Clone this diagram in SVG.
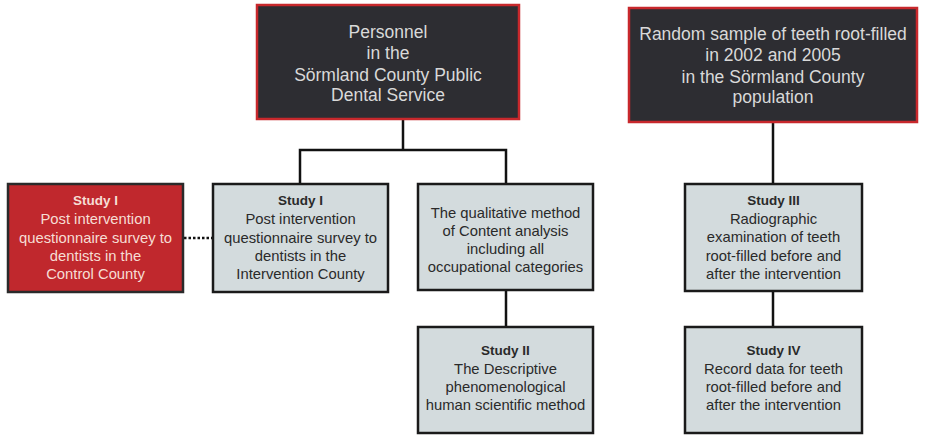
<svg xmlns="http://www.w3.org/2000/svg" width="928" height="442" viewBox="0 0 928 442">
<style>
.top{fill:#2d2d32;stroke:#c8282c;stroke-width:2.5}
.red{fill:#c0282d;stroke:#2a2a2a;stroke-width:2.5}
.gray{fill:#d3dbdd;stroke:#1a1a1a;stroke-width:2.5}
text{font-family:"Liberation Sans",Arial,sans-serif;text-anchor:middle}
.tt{fill:#d9d9d9;font-size:17.5px}
.rt{fill:#f6ddd4;font-size:14.8px}
.gt{fill:#2a2a2a;font-size:14.8px}
.b{font-weight:bold;font-size:13.5px}
.ln{stroke:#111;stroke-width:2.5;fill:none}
</style>
<rect width="928" height="442" fill="#fff"/>
<g id="connectors">
<path class="ln" d="M403,120 V150 M300,184 V150 H506 V184 M506,290 V327 M773,122 V184 M773,291 V327"/>
<path d="M184,238 H212" stroke="#111" stroke-width="2.5" stroke-dasharray="2.5,2"/>
</g>
<g id="personnel">
<rect class="top" x="257" y="5" width="262" height="114"/>
<text class="tt"><tspan x="388" y="38">Personnel</tspan><tspan x="388" y="59">in the</tspan><tspan x="388" y="81">Sörmland County Public</tspan><tspan x="388" y="101">Dental Service</tspan></text>
</g>
<g id="sample">
<rect class="top" x="629" y="8" width="288" height="114"/>
<text class="tt"><tspan x="773" y="40">Random sample of teeth root-filled</tspan><tspan x="773" y="61">in 2002 and 2005</tspan><tspan x="773" y="83">in the Sörmland County</tspan><tspan x="773" y="103">population</tspan></text>
</g>
<g id="study1-control">
<rect class="red" x="8" y="184" width="175" height="108"/>
<text class="rt"><tspan class="b" x="95.5" y="205">Study I</tspan><tspan x="95.5" y="224">Post intervention</tspan><tspan x="95.5" y="243">questionnaire survey to</tspan><tspan x="95.5" y="261">dentists in the</tspan><tspan x="95.5" y="279">Control County</tspan></text>
</g>
<g id="study1-intervention">
<rect class="gray" x="213" y="184" width="175" height="108"/>
<text class="gt"><tspan class="b" x="300.5" y="205">Study I</tspan><tspan x="300.5" y="224">Post intervention</tspan><tspan x="300.5" y="243">questionnaire survey to</tspan><tspan x="300.5" y="261">dentists in the</tspan><tspan x="300.5" y="279">Intervention County</tspan></text>
</g>
<g id="qualitative">
<rect class="gray" x="418" y="184" width="175" height="106"/>
<text class="gt"><tspan x="505.5" y="218">The qualitative method</tspan><tspan x="505.5" y="236">of Content analysis</tspan><tspan x="505.5" y="254">including all</tspan><tspan x="505.5" y="272">occupational categories</tspan></text>
</g>
<g id="study3">
<rect class="gray" x="685" y="184" width="177" height="107"/>
<text class="gt"><tspan class="b" x="773.5" y="205">Study III</tspan><tspan x="773.5" y="224">Radiographic</tspan><tspan x="773.5" y="242">examination of teeth</tspan><tspan x="773.5" y="261">root-filled before and</tspan><tspan x="773.5" y="279">after the intervention</tspan></text>
</g>
<g id="study2">
<rect class="gray" x="418" y="327" width="175" height="106"/>
<text class="gt"><tspan class="b" x="505.5" y="355">Study II</tspan><tspan x="505.5" y="374">The Descriptive</tspan><tspan x="505.5" y="392">phenomenological</tspan><tspan x="505.5" y="410">human scientific method</tspan></text>
</g>
<g id="study4">
<rect class="gray" x="685" y="327" width="177" height="106"/>
<text class="gt"><tspan class="b" x="773.5" y="355">Study IV</tspan><tspan x="773.5" y="374">Record data for teeth</tspan><tspan x="773.5" y="392">root-filled before and</tspan><tspan x="773.5" y="410">after the intervention</tspan></text>
</g>
</svg>
